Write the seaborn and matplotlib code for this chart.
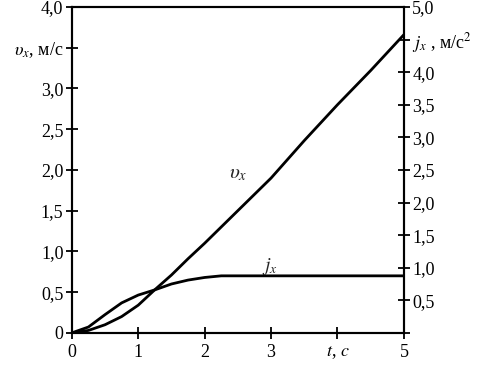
import numpy as np
import pandas as pd
import seaborn as sns
import matplotlib.pyplot as plt

# time, s
t = [0, 0.25, 0.5, 0.75, 1.0, 1.25, 1.5, 1.75, 2.0, 2.25, 2.5, 3.0, 3.5, 4.0, 4.5, 5.0]
# velocity v_x, m/s (left axis)
vx = [0, 0.03, 0.1, 0.2, 0.34, 0.53, 0.71, 0.91, 1.1, 1.3, 1.5, 1.9, 2.36, 2.8, 3.22, 3.66]
# acceleration j_x, m/s^2 (right axis)
jx = [0, 0.09, 0.28, 0.46, 0.58, 0.66, 0.75, 0.81, 0.85, 0.875, 0.875, 0.875, 0.875, 0.875, 0.875, 0.875]

x_ticks = [0, 1, 2, 3, 4, 5]
x_labels = ['0', '1', '2', '3', r'$t$, $c$', '5']
left_ticks = np.arange(0, 4.01, 0.5)
left_labels = ['0', '0,5', '1,0', '1,5', '2,0', '2,5', '3,0', r'$\upsilon_x$, м/с', '4,0']
right_ticks = np.arange(0, 5.01, 0.5)
right_labels = ['', '0,5', '1,0', '1,5', '2,0', '2,5', '3,0', '3,5', '4,0', r'$j_x$ , м/с$^2$', '5,0']

df = pd.DataFrame({'t': t, 'vx': vx, 'jx': jx})

sns.set_style('ticks')
plt.rcParams['font.family'] = ['Liberation Serif', 'DejaVu Serif']
plt.rcParams['mathtext.fontset'] = 'stix'

fig = plt.figure(figsize=(4.82, 3.65), dpi=100)
ax = fig.add_axes([0.149, 0.088, 0.689, 0.893])
ax2 = ax.twinx()

sns.lineplot(data=df, x='t', y='vx', ax=ax, color='black', lw=2)
sns.lineplot(data=df, x='t', y='jx', ax=ax2, color='black', lw=2)

ax.set_xlim(0, 5)
ax.set_ylim(0, 4)
ax2.set_ylim(0, 5)
ax.set_xticks(x_ticks)
ax.set_xticklabels(x_labels, fontsize=13)
ax.set_yticks(left_ticks)
ax.set_yticklabels(left_labels, fontsize=13)
ax2.set_yticks(right_ticks)
ax2.set_yticklabels(right_labels, fontsize=13)
ax.set_xlabel('')
ax.set_ylabel('')
ax2.set_ylabel('')

for a in (ax, ax2):
    for s in a.spines.values():
        s.set_linewidth(1.5)
        s.set_color('black')
ax.tick_params(axis='both', direction='inout', length=8, width=1.3, pad=2, colors='black')
ax.tick_params(axis='x', pad=4)
ax2.tick_params(axis='y', direction='inout', length=8, width=1.3, pad=2, colors='black')

ax.text(2.36, 1.9, r'$\upsilon_x$', fontsize=15)
ax.text(2.87, 0.76, r'$j_x$', fontsize=14)

fig.savefig('out.png', dpi=100)
